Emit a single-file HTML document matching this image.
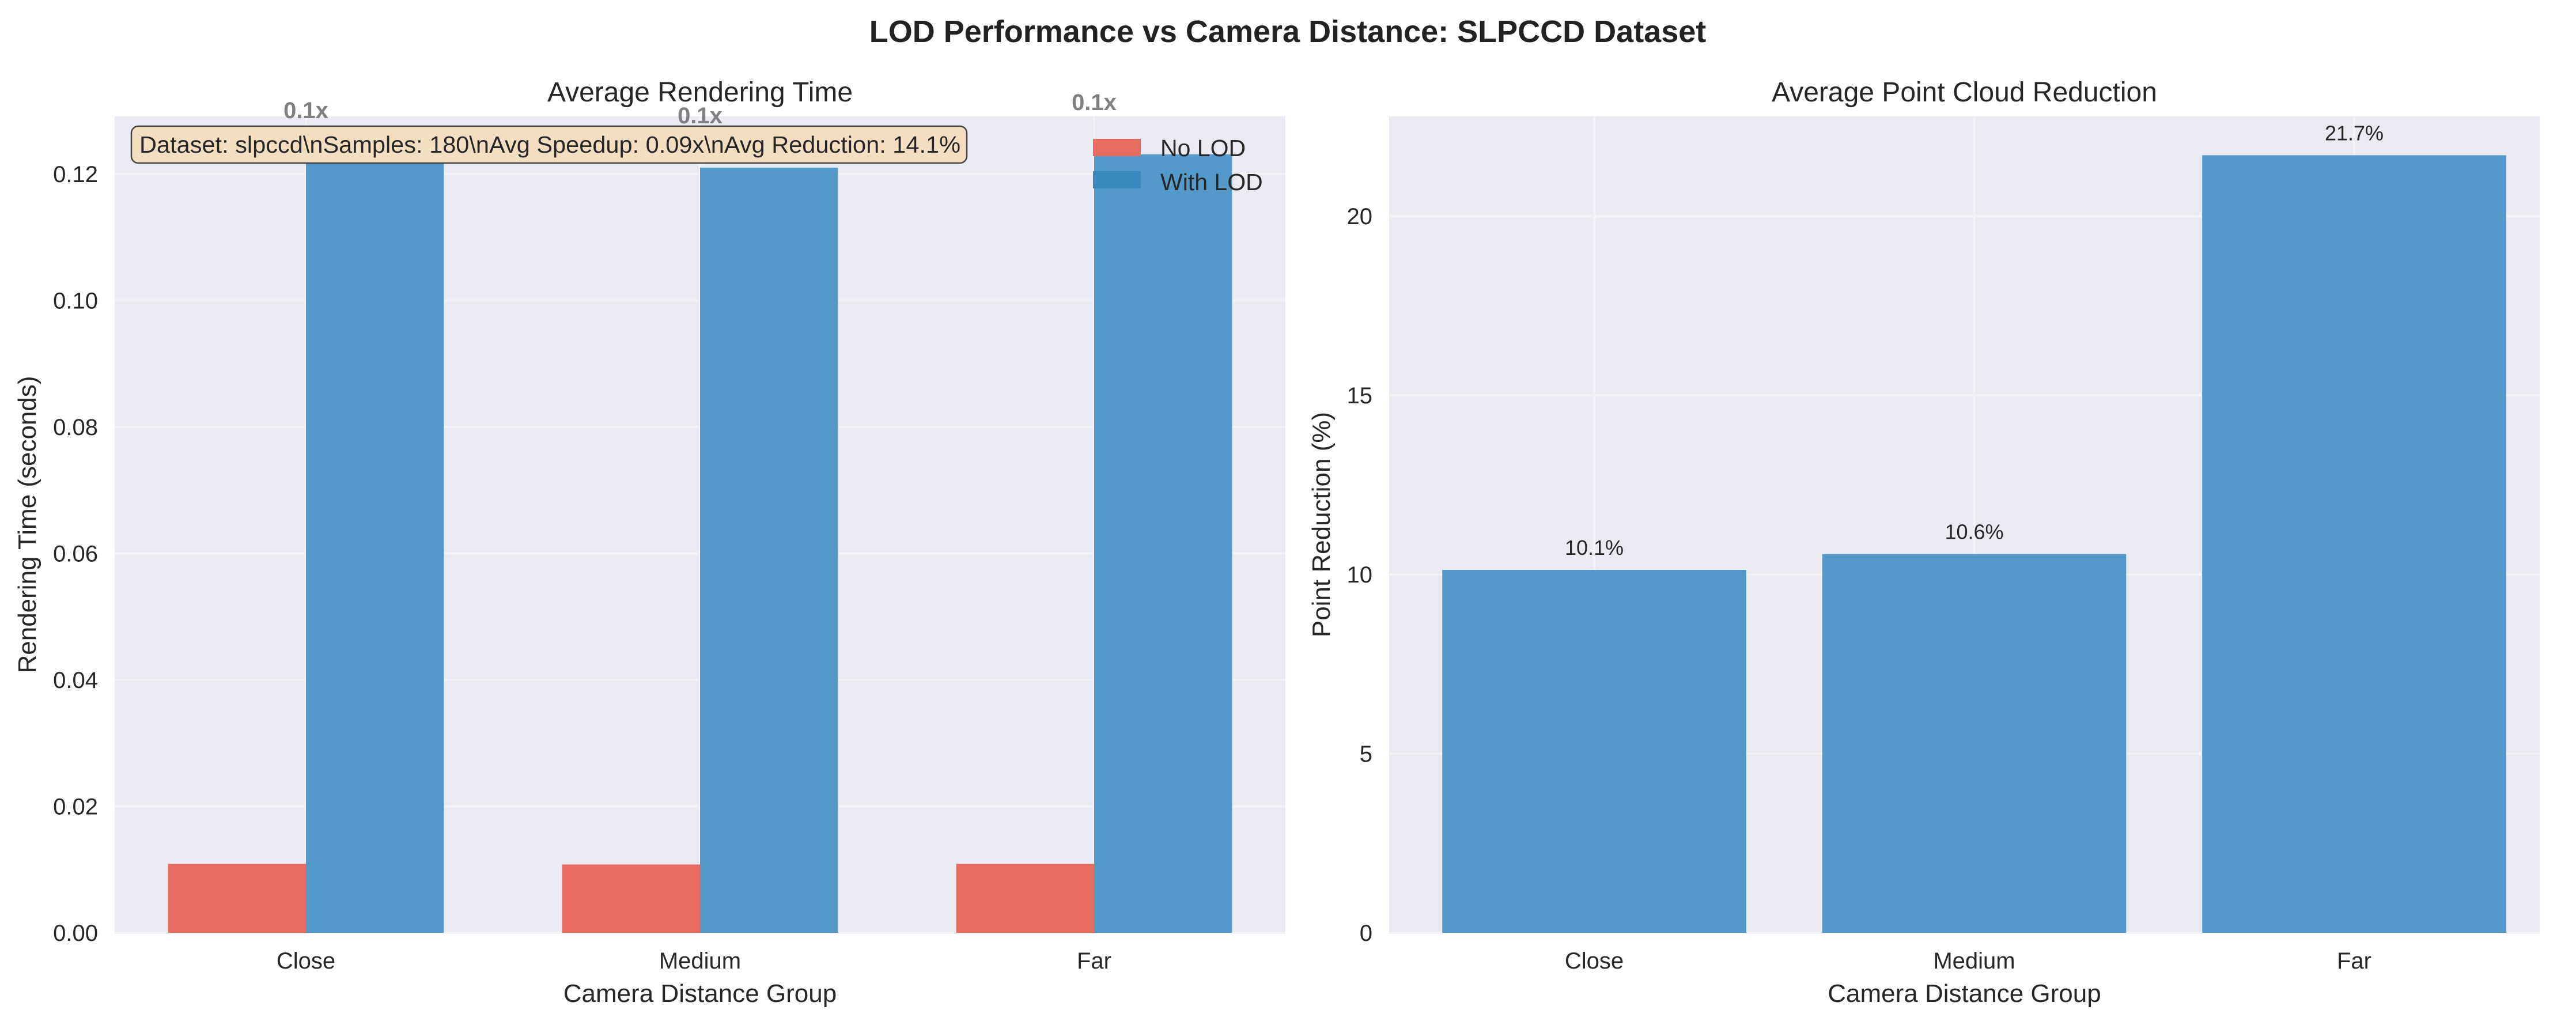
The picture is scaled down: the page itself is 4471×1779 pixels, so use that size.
<!DOCTYPE html>
<html><head><meta charset="utf-8"><style>
html,body{margin:0;padding:0;background:#fff}
svg{display:block;font-family:"Liberation Sans",Arial,sans-serif}
</style></head><body>
<svg id="fig" width="4471" height="1779" viewBox="0 0 4471 1779" xmlns="http://www.w3.org/2000/svg">
<text x="2235" y="73" text-anchor="middle" font-size="54" font-weight="bold" fill="#222">LOD Performance vs Camera Distance: SLPCCD Dataset</text>
<g id="left"></g>
<g id="right"></g>
</svg>
<script>
const categories = ["Close", "Medium", "Far"];
const noLodTimes = [0.0109, 0.0108, 0.0109];
const withLodTimes = [0.1218, 0.1210, 0.1231];
const speedupLabels = ["0.1x", "0.1x", "0.1x"];
const leftTicks = [0, 0.02, 0.04, 0.06, 0.08, 0.10, 0.12];
const reductionPct = [10.13, 10.57, 21.7];
const reductionLabels = ["10.1%", "10.6%", "21.7%"];
const rightTicks = [0, 5, 10, 15, 20];

const NS = "http://www.w3.org/2000/svg";
function mk(parent, tag, attrs, text) {
  const e = document.createElementNS(NS, tag);
  for (const k in attrs) e.setAttribute(k, attrs[k]);
  if (text !== undefined) e.textContent = text;
  parent.appendChild(e);
  return e;
}
const TXT = "#262626";
const GRID = "#f3f3f7";

function axesFrame(g, L, R, T, B, ticks, fy, fmt, xcats, fx, xlab, ylab, ylabX, title, tickRightX) {
  const bg = mk(g, "rect", {x: L, y: T, width: R - L, height: B - T, fill: "#eaeaf2"});
  
  
  ticks.forEach(t => {
    const y = fy(t);
    const gl = mk(g, "line", {x1: L, x2: R, y1: y, y2: y, stroke: GRID, "stroke-width": 4});
    
    
    const tl = mk(g, "text", {x: tickRightX, y: y + 14, "text-anchor": "end", "font-size": 40, fill: TXT}, fmt(t));
    
    
  });
  xcats.forEach((c, i) => {
    const x = fx(i);
    const gl = mk(g, "line", {x1: x, x2: x, y1: T, y2: B, stroke: GRID, "stroke-width": 4});
    
    
    const tl = mk(g, "text", {x: x, y: 1681, "text-anchor": "middle", "font-size": 40, fill: TXT}, c);
    
    
  });
  const xl = mk(g, "text", {x: (L + R) / 2, y: 1739, "text-anchor": "middle", "font-size": 44, fill: TXT}, xlab);
  
  
  const cy = (T + B) / 2;
  const yl = mk(g, "text", {x: ylabX, y: cy, "text-anchor": "middle", "font-size": 44, fill: TXT, transform: `rotate(-90 ${ylabX} ${cy})`}, ylab);
  
  
  const tt = mk(g, "text", {x: (L + R) / 2, y: 176, "text-anchor": "middle", "font-size": 48, fill: TXT}, title);
  
  
}

// Left chart
(function () {
  const g = document.getElementById("left");
  const L = 199, R = 2231, T = 202, B = 1619;
  const ymax = 0.1291;
  const fy = v => B - v / ymax * (B - T);
  const step = 684, x0 = 531;
  const fx = i => x0 + i * step;
  const bw = 0.35 * step;
  axesFrame(g, L, R, T, B, leftTicks, fy, t => t.toFixed(2), categories, fx,
    "Camera Distance Group", "Rendering Time (seconds)", 62, "Average Rendering Time", 170);
  categories.forEach((c, i) => {
    const cx = fx(i);
    const r = mk(g, "rect", {x: cx - bw, y: fy(noLodTimes[i]), width: bw, height: B - fy(noLodTimes[i]), fill: "#e76b5f"});
    
    
    const b = mk(g, "rect", {x: cx, y: fy(withLodTimes[i]), width: bw, height: B - fy(withLodTimes[i]), fill: "#539aca"});
    
    
    const top = Math.max(noLodTimes[i], withLodTimes[i]);
    const lb = mk(g, "text", {x: cx, y: fy(top) - 77, "text-anchor": "middle", "font-size": 40, "font-weight": "bold", fill: "#808080"}, speedupLabels[i]);
    
    
  });
  const box = mk(g, "rect", {x: 228, y: 219, width: 1450, height: 64, rx: 12, fill: "#f3dfbf", stroke: "#444", "stroke-width": 2.5});
  
  
  const bt = mk(g, "text", {x: 242, y: 265, "font-size": 41, fill: TXT, textLength: 1425, lengthAdjust: "spacingAndGlyphs"}, "Dataset: slpccd\\nSamples: 180\\nAvg Speedup: 0.09x\\nAvg Reduction: 14.1%");
  
  
  const lg = mk(g, "g", {});
  
  
  const p1 = mk(lg, "rect", {x: 1897, y: 241, width: 83, height: 30, fill: "#e76b5f"});
  
  
  const t1 = mk(lg, "text", {x: 2014, y: 271, "font-size": 41, fill: TXT}, "No LOD");
  
  
  const p2 = mk(lg, "rect", {x: 1897, y: 297, width: 83, height: 30, fill: "#3a8ac2"});
  
  
  const t2 = mk(lg, "text", {x: 2014, y: 330, "font-size": 41, fill: TXT}, "With LOD");
  
  
})();

// Right chart
(function () {
  const g = document.getElementById("right");
  const L = 2411, R = 4408, T = 202, B = 1619;
  const ymax = 22.785;
  const fy = v => B - v / ymax * (B - T);
  const step = 659.5, x0 = 2767;
  const fx = i => x0 + i * step;
  const bw = 0.8 * step;
  axesFrame(g, L, R, T, B, rightTicks, fy, t => String(t), categories, fx,
    "Camera Distance Group", "Point Reduction (%)", 2308, "Average Point Cloud Reduction", 2382);
  categories.forEach((c, i) => {
    const cx = fx(i);
    const b = mk(g, "rect", {x: cx - bw / 2, y: fy(reductionPct[i]), width: bw, height: B - fy(reductionPct[i]), fill: "#539aca"});
    
    
    const lb = mk(g, "text", {x: cx, y: fy(reductionPct[i]) - 26, "text-anchor": "middle", "font-size": 36, fill: TXT}, reductionLabels[i]);
    
    
  });
})();
</script>
</body></html>
